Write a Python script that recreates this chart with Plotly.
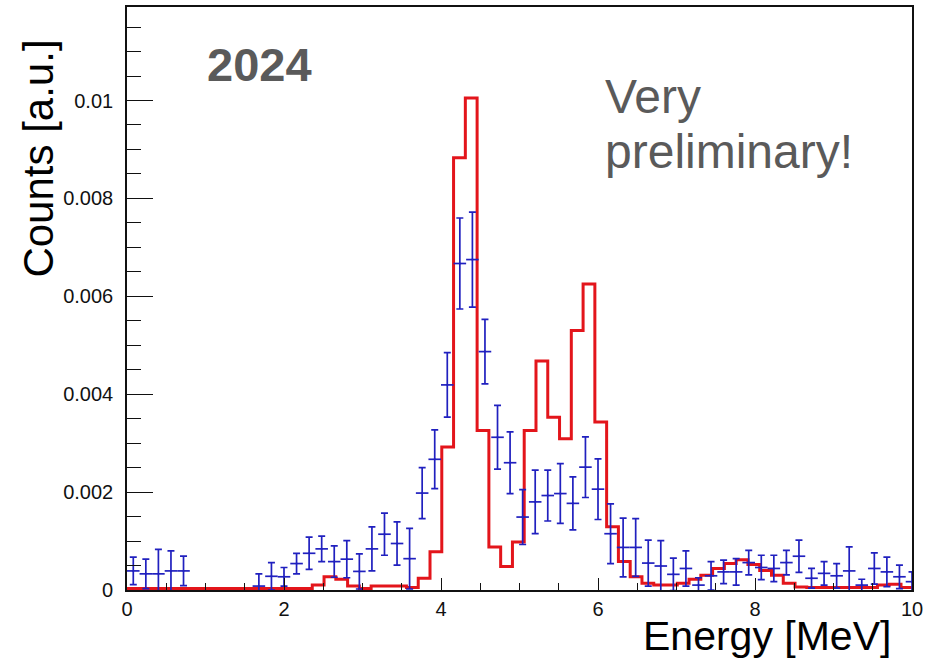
import numpy as np
import plotly.graph_objects as go

# ---- simulated spectrum (red): 0.15 MeV bins, first edge at -0.04 MeV ----
red_first_edge = -0.04
red_bin_width = 0.15
red_counts = [
    0.00003, 0.00003, 0.00003, 0.00003, 0.00003, 0.00003, 0.00003, 0.00003,
    0.00003, 0.00003, 0.00003, 0.00003, 0.00003, 0.00003, 0.00003, 0.00003,
    0.00010, 0.00027, 0.00022, 0.00008, 0.00003, 0.00008, 0.00008, 0.00008,
    0.00005, 0.00024, 0.00078, 0.00292, 0.00883, 0.01005, 0.00326, 0.00088,
    0.00048, 0.00098, 0.00326, 0.00468, 0.00353, 0.00309, 0.00530, 0.00625,
    0.00343, 0.00129, 0.00058, 0.00027, 0.00014, 0.00010, 0.00010, 0.00014,
    0.00022, 0.00030, 0.00044, 0.00054, 0.00062, 0.00052, 0.00040, 0.00030,
    0.00014, 0.00006, 0.00005, 0.00005, 0.00005, 0.00005, 0.00005, 0.00005,
    0.00010, 0.00012, 0.00005,
]

# ---- measured spectrum (blue): 0.16 MeV bins starting at 0 ----
blue_bin_width = 0.16
blue_counts = [
    0.00039, 0.00033, 0.00033, 0.00039, 0.00039, None, None, None,
    None, None, 0.00008, 0.00028, 0.00027, 0.00054, 0.00075, 0.00084,
    0.00058, 0.00063, 0.00038, 0.00084, 0.00114, 0.00095, 0.00064, 0.00198,
    0.00267, 0.00419, 0.00667, 0.00675, 0.00487, 0.00312, 0.00260, 0.00149,
    0.00180, 0.00193, 0.00197, 0.00177, 0.00251, 0.00206, 0.00115, 0.00087,
    0.00087, 0.00055, 0.00049, 0.00032, 0.00044, 0.00010, 0.00029, 0.00037,
    0.00037, 0.00056, 0.00046, 0.00044, 0.00056, 0.00069, 0.00024, 0.00034,
    0.00029, 0.00039, 0.00010, 0.00044, 0.00037, 0.00027, 0.00017,
]
blue_errors = [
    0.00028, 0.00030, 0.00050, 0.00041, 0.00030, None, None, None,
    None, None, 0.00025, 0.00028, 0.00019, 0.00021, 0.00033, 0.00026,
    0.00032, 0.00038, 0.00036, 0.00045, 0.00043, 0.00044, 0.00062, 0.00052,
    0.00060, 0.00066, 0.00093, 0.00097, 0.00066, 0.00065, 0.00063, 0.00056,
    0.00065, 0.00052, 0.00061, 0.00054, 0.00062, 0.00062, 0.00061, 0.00060,
    0.00059, 0.00047, 0.00052, 0.00033, 0.00036, 0.00015, 0.00029, 0.00024,
    0.00027, 0.00025, 0.00025, 0.00027, 0.00025, 0.00033, 0.00020, 0.00024,
    0.00025, 0.00049, 0.00012, 0.00032, 0.00030, 0.00024, 0.00020,
]

y_tick_values = [0, 0.002, 0.004, 0.006, 0.008, 0.01]
y_tick_labels = ["0", "0.002", "0.004", "0.006", "0.008", "0.01"]
x_tick_values = [0, 2, 4, 6, 8, 10]
x_tick_labels = ["0", "2", "4", "6", "8", "10"]

FONT = "Liberation Sans, Arial, Helvetica, sans-serif"
RED = "#e3151b"
BLUE = "#2020bf"
GREY_TEXT = "#5a5a5a"

# step outline for the red histogram
red_edges = red_first_edge + red_bin_width * np.arange(len(red_counts) + 1)
red_y = list(red_counts) + [red_counts[-1]]

# points with bin-width horizontal bars and vertical error bars
blue_x = blue_bin_width * (np.arange(len(blue_counts)) + 0.5)
blue_half = [blue_bin_width / 2 if v is not None else None for v in blue_counts]

fig = go.Figure()
fig.add_trace(go.Scatter(
    x=red_edges, y=red_y, mode="lines",
    line=dict(color=RED, width=3, shape="hv"),
    hoverinfo="skip", showlegend=False,
))
fig.add_trace(go.Scatter(
    x=blue_x, y=blue_counts, mode="markers",
    marker=dict(color=BLUE, size=2),
    error_y=dict(type="data", array=blue_errors, color=BLUE,
                 thickness=1.7, width=3.5, visible=True),
    error_x=dict(type="data", array=blue_half, color=BLUE,
                 thickness=1.7, width=0, visible=True),
    showlegend=False,
))

fig.update_layout(
    width=934, height=659,
    margin=dict(l=127, r=22, t=5, b=69),
    paper_bgcolor="white", plot_bgcolor="white",
    font=dict(family=FONT, color="#111111"),
    xaxis=dict(
        range=[0, 10], showgrid=False, zeroline=False,
        showline=True, linecolor="#111111", linewidth=1.6, mirror=True,
        ticks="inside", ticklen=12, tickwidth=1.4, tickcolor="#111111",
        tickvals=x_tick_values, ticktext=x_tick_labels,
        tickfont=dict(size=20, family=FONT, color="#111111"),
        minor=dict(dtick=0.5, tick0=0, ticks="inside", ticklen=7,
                   tickwidth=1.4, tickcolor="#111111", showgrid=False),
    ),
    yaxis=dict(
        range=[0, 0.01191], showgrid=False, zeroline=False,
        showline=True, linecolor="#111111", linewidth=1.6, mirror=True,
        ticks="inside", ticklen=26, tickwidth=1.4, tickcolor="#111111",
        tickvals=y_tick_values, ticktext=y_tick_labels,
        tickfont=dict(size=20, family=FONT, color="#111111"),
        ticklabelstandoff=8,
        minor=dict(dtick=0.0005, tick0=0, ticks="inside", ticklen=14,
                   tickwidth=1.4, tickcolor="#111111", showgrid=False),
    ),
    annotations=[
        dict(text="<b>2024</b>", x=0.0994, y=0.9017, xref="paper", yref="paper",
             xanchor="left", yanchor="middle", showarrow=False,
             font=dict(size=47, family=FONT, color=GREY_TEXT)),
        dict(text="Very", x=0.607, y=0.847, xref="paper", yref="paper",
             xanchor="left", yanchor="middle", showarrow=False,
             font=dict(size=48, family=FONT, color=GREY_TEXT)),
        dict(text="preliminary!", x=0.607, y=0.7513, xref="paper", yref="paper",
             xanchor="left", yanchor="middle", showarrow=False,
             font=dict(size=48, family=FONT, color=GREY_TEXT)),
        dict(text="Counts [a.u.]", x=-0.1121, y=0.740, xref="paper", yref="paper",
             xanchor="center", yanchor="middle", textangle=-90, showarrow=False,
             font=dict(size=42, family=FONT, color="#000000")),
        dict(text="Energy [MeV]", x=0.9758, y=-0.0790, xref="paper", yref="paper",
             xanchor="right", yanchor="middle", showarrow=False,
             font=dict(size=41, family=FONT, color="#000000")),
    ],
)

fig.write_html("out.html")
